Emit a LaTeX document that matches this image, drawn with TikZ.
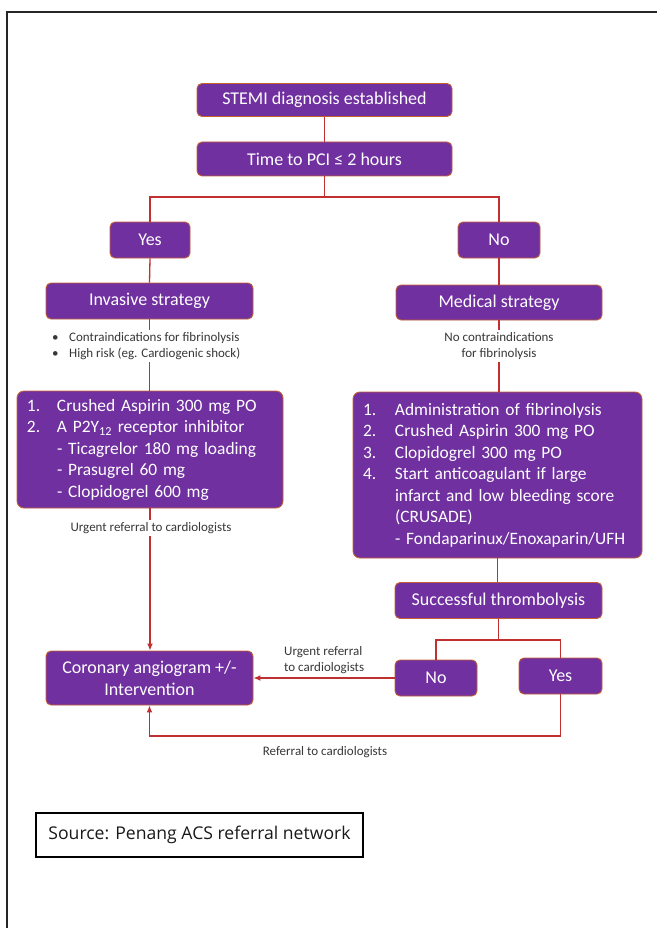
\documentclass[tikz,border=0pt]{standalone}
\usepackage{fontspec}
\setmainfont{Carlito}
\newfontfamily\srcfont{Open Sans}
\usetikzlibrary{arrows.meta}
\definecolor{boxpurple}{RGB}{112,48,160}
\definecolor{boxedge}{RGB}{196,96,50}
\definecolor{linered}{RGB}{192,48,48}
\definecolor{labelgray}{RGB}{55,55,55}
\begin{document}
\begin{tikzpicture}[x=1pt,y=-1pt,
  pbox/.style={draw=boxedge, line width=0.9pt, fill=boxpurple, rounded corners=5pt,
    text=white, inner sep=0pt, font=\fontsize{18}{22}\selectfont, align=center},
  listbox/.style={draw=boxedge, line width=0.9pt, fill=boxpurple, rounded corners=7pt,
    text=white, inner xsep=10pt, inner ysep=0pt, font=\fontsize{17.4}{21.5}\selectfont, align=left},
  conn/.style={draw=linered, line width=1.3pt},
  arr/.style={conn, -{Latex[length=7pt,width=6pt]}},
  lbl/.style={text=labelgray, font=\fontsize{13}{16}\selectfont, inner sep=2pt},
]
\useasboundingbox (0,0) rectangle (656,928);
\draw[line width=2.2pt, black!85] (7,940) -- (7,12) -- (670,12);

% boxes
\node[pbox, minimum width=255pt, minimum height=33pt] (stemi) at (324.5,100) {STEMI diagnosis established};
\node[pbox, minimum width=255pt, minimum height=34pt] (time) at (324.5,159) {Time to PCI ≤ 2 hours};
\node[pbox, minimum width=80pt, minimum height=36pt] (yes1) at (150,240) {Yes};
\node[pbox, minimum width=82pt, minimum height=36pt] (no1) at (499,240) {No};
\node[pbox, minimum width=207pt, minimum height=36pt] (inv) at (149.5,301) {Invasive strategy};
\node[pbox, minimum width=206pt, minimum height=35pt] (med) at (499,302.5) {Medical strategy};

\node[listbox, text width=246pt, minimum height=117pt] (llist) at (150,449.5) {%
\makebox[30pt][l]{1.}Crushed Aspirin 300 mg PO\\
\makebox[30pt][l]{2.}A P2Y\textsubscript{12} receptor inhibitor\\
\hspace*{30pt}- Ticagrelor 180 mg loading\\
\hspace*{30pt}- Prasugrel 60 mg\\
\hspace*{30pt}- Clopidogrel 600 mg};

\node[listbox, text width=269pt, minimum height=166pt] (rlist) at (497.5,475) {%
\makebox[32pt][l]{1.}Administration of fibrinolysis\\
\makebox[32pt][l]{2.}Crushed Aspirin 300 mg PO\\
\makebox[32pt][l]{3.}Clopidogrel 300 mg PO\\
\makebox[32pt][l]{4.}Start anticoagulant if large\\
\hspace*{32pt}infarct and low bleeding score\\
\hspace*{32pt}(CRUSADE)\\
\hspace*{32pt}- Fondaparinux/Enoxaparin/UFH};

\node[pbox, minimum width=207pt, minimum height=36pt] (succ) at (498.5,600.5) {Successful thrombolysis};
\node[pbox, minimum width=207pt, minimum height=54pt, font=\fontsize{18}{22}\selectfont] (coro) at (149.5,678) {Coronary angiogram +/-\\Intervention};
\node[pbox, minimum width=82pt, minimum height=36pt] (no2) at (436,678) {No};
\node[pbox, minimum width=83pt, minimum height=36pt] (yes2) at (560.5,676) {Yes};

% connectors
\coordinate (br) at (324.5,197);
\coordinate (sp) at (498.5,640);
\draw[conn] (stemi.south) -- (time.north);
\draw[conn] (time.south) -- (br);
\draw[conn] (br) -| (yes1.north);
\draw[conn] (br) -| (no1.north);
\draw[conn] (yes1.south) -- (inv.north);
\draw[conn] (no1.south) -- (med.north);
\draw[conn] (inv.south) -- (inv.south |- llist.north);
\draw[conn] (med.south) -- (med.south |- rlist.north);
\draw[arr] (llist.south) -- (llist.south |- coro.north);
\draw[conn] (rlist.south) -- (rlist.south |- succ.north);
\draw[conn] (succ.south) -- (sp);
\draw[conn] (sp) -| (no2.north);
\draw[conn] (sp) -| (yes2.north);
\draw[arr] (no2.west) -- (no2.west -| coro.east);
\coordinate (bl) at (560.5,736);
\draw[arr] (yes2.south) -- (bl) -| (coro.south);

% labels
\node[lbl, fill=white, anchor=west, align=left] (bul) at (50,346) {%
\makebox[17pt][l]{•}Contraindications for fibrinolysis\\
\makebox[17pt][l]{•}High risk (eg. Cardiogenic shock)};
\node[lbl, fill=white, align=center] (nocontra) at (499,346) {No contraindications\\for fibrinolysis};
\node[lbl, fill=white] (urg1) at (151,528) {Urgent referral to cardiologists};
\node[lbl, align=left, anchor=west] (urg2) at (282,660) {Urgent referral\\to cardiologists};
\node[lbl] (ref) at (325,752) {Referral to cardiologists};

% source
\node[draw=black, line width=1.6pt, minimum width=327pt, minimum height=44pt, inner sep=0pt,
  font=\srcfont\fontsize{17.6}{20}\selectfont, text=black!90] (src) at (199.5,835) {Source: Penang ACS referral network};
\end{tikzpicture}
\end{document}
